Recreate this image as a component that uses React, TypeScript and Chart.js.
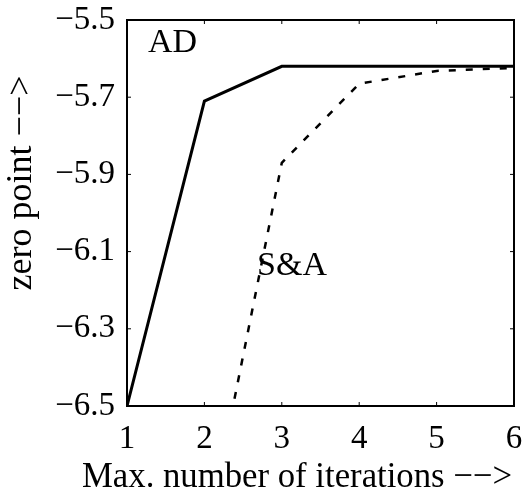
import React, { useEffect, useRef } from "react";
import { Chart, registerables } from "chart.js";

Chart.register(...registerables);

const iterations = [1, 2, 3, 4, 5, 6];
const adValues = [-6.5, -5.71, -5.62, -5.62, -5.62, -5.62];
const saValues = [null, -6.87, -5.87, -5.665, -5.632, -5.624];
const xTickValues = [1, 2, 3, 4, 5, 6];
const yTickValues = [-6.5, -6.3, -6.1, -5.9, -5.7, -5.5];
const seriesNames = ["AD", "S&A"];
const xTitle = "Max. number of iterations \u2212\u2212>";
const yTitle = "zero point \u2212\u2212>";
const labelPositions = [
  { text: "AD", x: 1.27, y: -5.583 },
  { text: "S&A", x: 2.68, y: -6.16 },
];

const FONT = "'Liberation Serif', 'Times New Roman', serif";

const fmt = (v: number, d: number) => v.toFixed(d).replace("-", "\u2212");

const framePlugin = {
  id: "frame",
  afterDraw(chart: any) {
    const { ctx, chartArea, scales } = chart;
    const { left, right, top, bottom } = chartArea;
    ctx.save();
    ctx.strokeStyle = "#000";
    ctx.lineWidth = 2;
    ctx.strokeRect(left, top, right - left, bottom - top);
    // small inward tick marks
    ctx.lineWidth = 1;
    ctx.beginPath();
    xTickValues.forEach((v) => {
      const px = scales.x.getPixelForValue(v);
      ctx.moveTo(px, bottom);
      ctx.lineTo(px, bottom - 4);
      ctx.moveTo(px, top);
      ctx.lineTo(px, top + 4);
    });
    yTickValues.forEach((v) => {
      const py = scales.y.getPixelForValue(v);
      ctx.moveTo(left, py);
      ctx.lineTo(left + 4, py);
      ctx.moveTo(right, py);
      ctx.lineTo(right - 4, py);
    });
    ctx.stroke();
    // series labels
    ctx.fillStyle = "#000";
    ctx.font = `34px ${FONT}`;
    ctx.textAlign = "left";
    ctx.textBaseline = "alphabetic";
    labelPositions.forEach((l) => {
      ctx.fillText(l.text, scales.x.getPixelForValue(l.x), scales.y.getPixelForValue(l.y));
    });
    // x axis title, stretched to the reference's width
    ctx.font = `36px ${FONT}`;
    ctx.textAlign = "left";
    const w = ctx.measureText(xTitle).width;
    const target = 430;
    const startX = right - 2 - target;
    ctx.save();
    ctx.translate(startX, 487);
    ctx.scale(target / w, 1);
    ctx.fillText(xTitle, 0, 0);
    ctx.restore();
    // y axis title
    ctx.translate(22, 183);
    ctx.rotate(-Math.PI / 2);
    ctx.textAlign = "center";
    ctx.textBaseline = "middle";
    ctx.fillText(yTitle, 0, 0);
    ctx.restore();
  },
};

export default function App() {
  const ref = useRef<HTMLCanvasElement | null>(null);
  useEffect(() => {
    if (!ref.current) return;
    const chart = new Chart(ref.current, {
      type: "line",
      data: {
        labels: iterations,
        datasets: [
          {
            label: seriesNames[0],
            data: iterations.map((x, i) => ({ x, y: adValues[i] })),
            borderColor: "#000",
            borderWidth: 3,
            pointRadius: 0,
            tension: 0,
            fill: false,
          },
          {
            label: seriesNames[1],
            data: iterations.map((x, i) => ({ x, y: saValues[i] })),
            borderColor: "#000",
            borderWidth: 2.5,
            borderDash: [7, 10],
            pointRadius: 0,
            tension: 0,
            fill: false,
            spanGaps: false,
          },
        ],
      },
      options: {
        animation: false,
        responsive: false,
        devicePixelRatio: 1,
        layout: { padding: { top: 20, right: 8, left: 0, bottom: 0 } },
        plugins: { legend: { display: false }, tooltip: { enabled: false } },
        scales: {
          x: {
            type: "linear",
            min: 1,
            max: 6,
            afterBuildTicks: (s: any) => {
              s.ticks = xTickValues.map((v) => ({ value: v }));
            },
            afterFit: (s: any) => {
              s.height = 87;
              s.paddingLeft = 0;
              s.paddingRight = 0;
              s.paddingTop = 0;
              s.paddingBottom = 0;
            },
            grid: { display: false, drawTicks: false },
            border: { display: false },
            ticks: {
              padding: 14,
              color: "#000",
              font: { family: FONT, size: 33 },
              callback: (v: any) => fmt(Number(v), 0),
            },
            title: { display: false },
          },
          y: {
            type: "linear",
            min: -6.5,
            max: -5.5,
            afterBuildTicks: (s: any) => {
              s.ticks = yTickValues.map((v) => ({ value: v }));
            },
            afterFit: (s: any) => {
              s.width = 127;
              s.paddingLeft = 0;
              s.paddingRight = 0;
              s.paddingTop = 0;
              s.paddingBottom = 0;
            },
            grid: { display: false, drawTicks: false },
            border: { display: false },
            ticks: {
              padding: 12,
              color: "#000",
              font: { family: FONT, size: 33 },
              callback: (v: any) => fmt(Number(v), 1),
            },
            title: { display: false },
          },
        },
      },
      plugins: [framePlugin],
    } as any);
    return () => chart.destroy();
  }, []);
  return (
    <div style={{ position: "absolute", left: 0, top: 0, width: 522, height: 493, background: "#fff" }}>
      <canvas ref={ref} width={522} height={493} />
    </div>
  );
}
